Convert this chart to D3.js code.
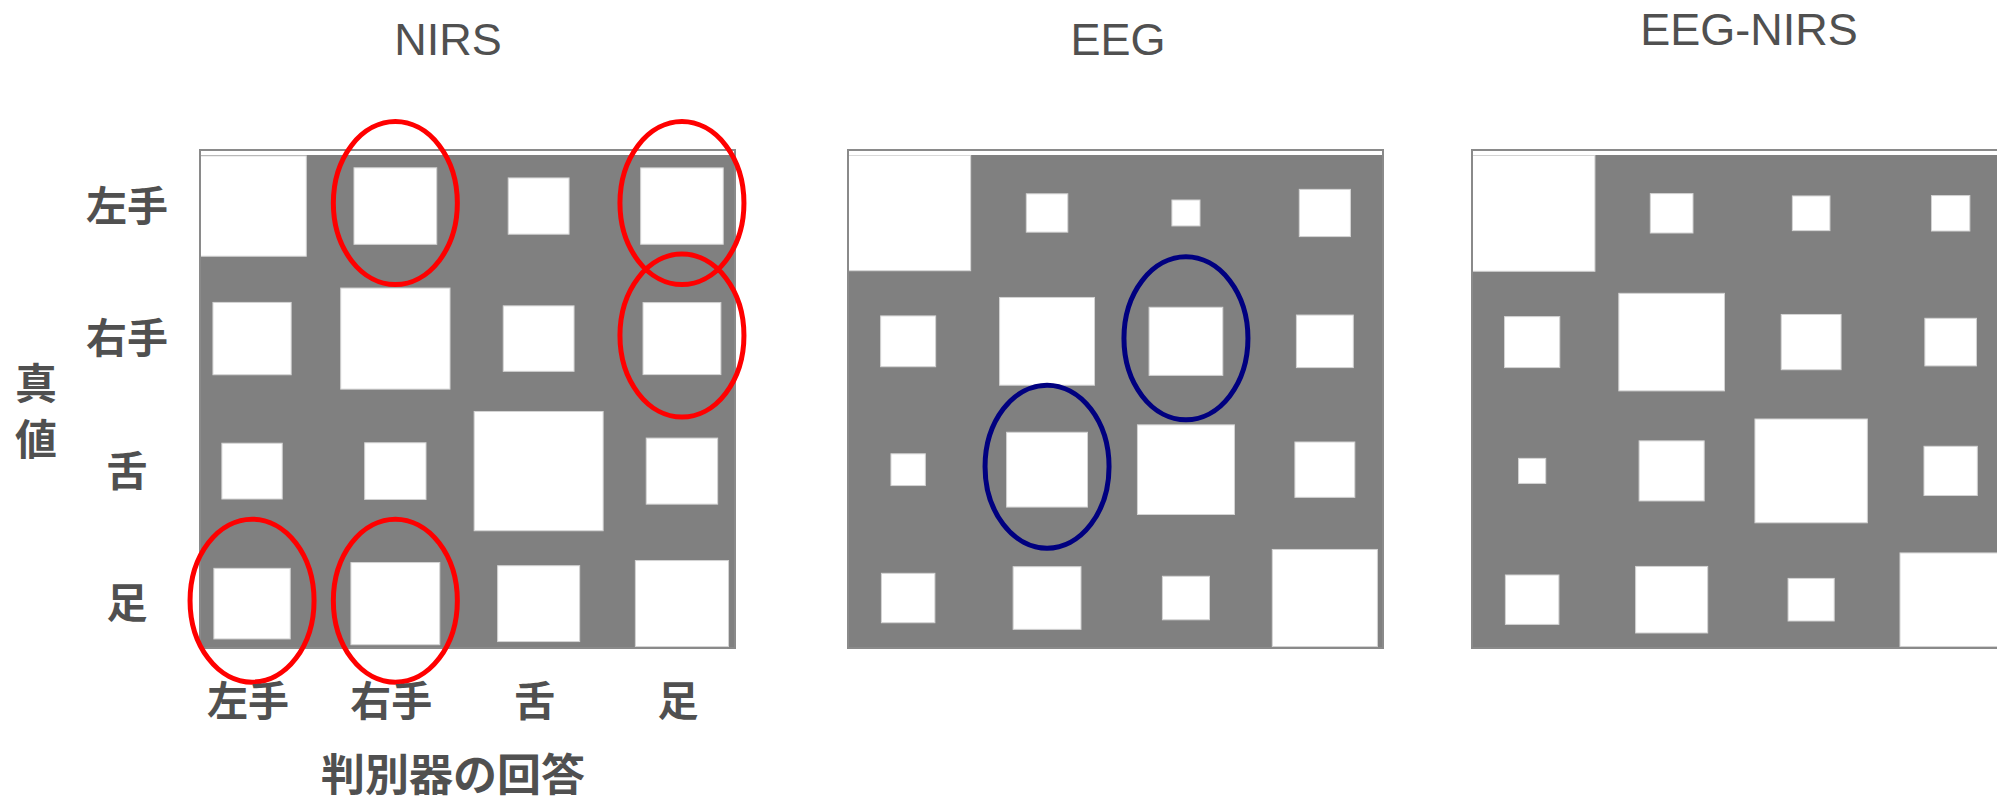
<!DOCTYPE html>
<html>
<head>
<meta charset="utf-8">
<script src="https://cdn.jsdelivr.net/npm/d3@7/dist/d3.min.js"></script>
<style>
    body { margin: 0; background: #fff; }
    .title { font-family: "Liberation Sans", Arial, sans-serif; font-size: 45px; fill: #505050; }
    .cjk { font-family: "Noto Sans CJK JP", sans-serif; font-weight: bold; fill: #505050; }
</style>
</head>
<body>
<div id="chart"></div>
<script>
var categories = ["左手", "右手", "舌", "足"];
var panelTitles = ["NIRS", "EEG", "EEG-NIRS"];
var rowTitle = "真値";
var colTitle = "判別器の回答";

// confusion matrices (%), rows = true class, columns = classifier answer
var nirs = [
    [40.4, 23.5, 12.7, 23.4],
    [21.0, 41.0, 17.2, 20.8],
    [12.5, 12.9, 57.1, 17.5],
    [20.0, 27.1, 23.1, 29.8]
];
var eeg = [
    [75.4, 8.3, 3.8, 12.6],
    [14.6, 43.5, 26.2, 15.6],
    [5.7, 31.6, 45.4, 17.3],
    [13.8, 22.2, 10.7, 53.3]
];
var eegNirs = [
    [77.1, 8.9, 6.9, 7.2],
    [14.9, 54.6, 17.5, 13.0],
    [3.6, 20.7, 61.8, 13.9],
    [14.0, 25.4, 10.4, 50.2]
];
// highlighted cells [row, col]
var nirsMarks = [[0, 1], [0, 3], [1, 3], [3, 0], [3, 1]];
var eegMarks = [[1, 2], [2, 1]];

var width = 1997;
var height = 806;
var frameW = 535, frameTop = 150, frameH = 498;

var panels = [
    { data: nirs, marks: nirsMarks, color: "#ff0000", fx: 200, gx: [-19.6, 18.6], gy: [-10.2, 21.9], tx: 448, ty: 55 },
    { data: eeg, marks: eegMarks, color: "#000080", fx: 848, gx: [-9.3, 11.3], gy: [-1.2, 14.2], tx: 1118, ty: 55 },
    { data: eegNirs, marks: [], color: "#000080", fx: 1472, gx: [-9.6, 13.4], gy: [-1.1, 16.1], tx: 1749, ty: 45 }
];

var svg = d3.select("#chart")
    .append("svg")
    .attr("width", width)
    .attr("height", height);

panels.forEach(function (p, i) {
    var g = svg.append("g");

    var x = d3.scaleBand()
        .domain(categories)
        .range([p.fx + p.gx[0], p.fx + frameW + p.gx[1]]);
    var y = d3.scaleBand()
        .domain(categories)
        .range([frameTop + p.gy[0], frameTop + frameH + p.gy[1]]);
    var maxV = d3.max(p.data, r => d3.max(r));
    var size = d3.scaleSqrt().domain([0, maxV]).range([0, 0.9]);

    g.append("text")
        .attr("class", "title")
        .attr("x", p.tx)
        .attr("y", p.ty)
        .attr("text-anchor", "middle")
        .text(panelTitles[i]);

    g.append("rect")
        .attr("x", p.fx)
        .attr("y", frameTop)
        .attr("width", frameW)
        .attr("height", frameH)
        .attr("fill", "#fff")
        .attr("stroke", "#8a8a8a")
        .attr("stroke-width", 2);

    var fill = { x: p.fx + 1, y: frameTop + 5, w: frameW - 2, h: frameH - 6 };
    g.append("clipPath")
        .attr("id", "clip" + i)
        .append("rect")
        .attr("x", fill.x)
        .attr("y", fill.y)
        .attr("width", fill.w)
        .attr("height", fill.h);

    g.append("rect")
        .attr("x", fill.x)
        .attr("y", fill.y)
        .attr("width", fill.w)
        .attr("height", fill.h)
        .attr("fill", "#808080");

    var cells = [];
    p.data.forEach(function (row, r) {
        row.forEach(function (v, c) {
            cells.push({ row: categories[r], col: categories[c], value: v });
        });
    });

    g.append("g")
        .attr("clip-path", "url(#clip" + i + ")")
        .selectAll("rect")
        .data(cells)
        .enter().append("rect")
        .attr("x", d => x(d.col) + x.bandwidth() / 2 - size(d.value) * x.bandwidth() / 2)
        .attr("y", d => y(d.row) + y.bandwidth() / 2 - size(d.value) * y.bandwidth() / 2)
        .attr("width", d => size(d.value) * x.bandwidth())
        .attr("height", d => size(d.value) * y.bandwidth())
        .attr("fill", "#fff")
        .attr("stroke", "#d4d4d4")
        .attr("stroke-width", 1);

    g.append("g")
        .selectAll("ellipse")
        .data(p.marks)
        .enter().append("ellipse")
        .attr("cx", d => x(categories[d[1]]) + x.bandwidth() / 2)
        .attr("cy", d => y(categories[d[0]]) + y.bandwidth() / 2 - 3)
        .attr("rx", 62)
        .attr("ry", 81.5)
        .attr("fill", "none")
        .attr("stroke", p.color)
        .attr("stroke-width", 5);

    if (i == 0) {
        g.append("g")
            .selectAll("text")
            .data(categories)
            .enter().append("text")
            .attr("class", "cjk")
            .attr("font-size", 41)
            .attr("text-anchor", "middle")
            .attr("x", 127)
            .attr("y", d => y(d) + y.bandwidth() / 2)
            .attr("dy", "0.36em")
            .text(d => d);

        g.append("g")
            .selectAll("text")
            .data(categories)
            .enter().append("text")
            .attr("class", "cjk")
            .attr("font-size", 41)
            .attr("text-anchor", "middle")
            .attr("x", d => x(d) + x.bandwidth() / 2 - 4)
            .attr("y", 701)
            .attr("dy", "0.36em")
            .text(d => d);

        g.append("g")
            .selectAll("text")
            .data(rowTitle.split(""))
            .enter().append("text")
            .attr("class", "cjk")
            .attr("font-size", 42)
            .attr("text-anchor", "middle")
            .attr("x", 36)
            .attr("y", (d, k) => 384 + k * 56)
            .attr("dy", "0.36em")
            .text(d => d);

        g.append("text")
            .attr("class", "cjk")
            .attr("font-size", 44)
            .attr("text-anchor", "middle")
            .attr("x", 453)
            .attr("y", 775)
            .attr("dy", "0.36em")
            .text(colTitle);
    }
});
</script>
</body>
</html>
